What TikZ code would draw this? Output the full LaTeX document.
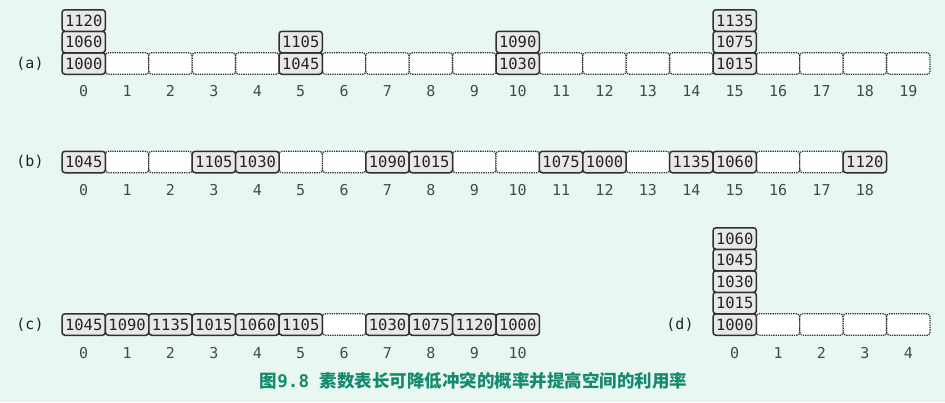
\documentclass[tikz,border=0pt]{standalone}
\usepackage{fontspec}
\setmonofont{DejaVu Sans Mono}
\newfontfamily\cjk{Noto Sans CJK SC}
\usetikzlibrary{positioning}
\definecolor{bg}{RGB}{232,248,241}
\definecolor{cellfill}{RGB}{231,232,231}
\definecolor{edge}{RGB}{48,48,48}
\definecolor{txt}{RGB}{35,35,35}
\definecolor{idxc}{RGB}{72,72,72}
\definecolor{capt}{RGB}{22,138,108}

\begin{document}
\begin{tikzpicture}[x=1pt, y=-1pt,
    cell/.style={minimum width=43.4pt, minimum height=21.5pt, inner sep=0pt,
      rounded corners=3pt, font=\ttfamily\fontsize{15.5}{15.5}\selectfont, text=txt},
    full/.style={cell, draw=edge, fill=cellfill, line width=1.5pt},
    free/.style={cell, draw=edge, fill=white, densely dotted, line width=1.3pt},
    idx/.style={font=\ttfamily\fontsize{15}{15}\selectfont, text=idxc},
    tag/.style={font=\ttfamily\fontsize{15}{15}\selectfont, text=txt}]
  \fill[bg] (0,0) rectangle (945,402);
  \useasboundingbox (0,0) rectangle (945,402);
  % (a)
  \node[tag] (la) at (30,63.5) {(a)};
  \foreach \i in {1,2,3,4,6,7,8,9,11,12,13,14,16,17,18,19}{
    \node[free] (a\i) at ({83.7+43.4*\i},63.5) {};
  }
  \foreach \i/\v in {0/1000, 5/1045, 10/1030, 15/1015}{
    \node[full] (a\i) at ({83.7+43.4*\i},63.5) {\v};
  }
  \foreach \i/\k/\v in {0/1/1060, 0/2/1120, 5/1/1105, 10/1/1090, 15/1/1075, 15/2/1135}{
    \node[full] (a\i-\k) at ({83.7+43.4*\i},{63.5-21.5*\k}) {\v};
  }
  \foreach \i in {0,...,19}{
    \node[idx] (ia\i) at ({83.7+43.4*\i},91) {\i};
  }
  % (b)
  \node[tag] (lb) at (30,162) {(b)};
  \foreach \i in {1,2,5,6,9,10,13,16,17}{
    \node[free] (b\i) at ({83.7+43.4*\i},162) {};
  }
  \foreach \i/\v in {0/1045, 3/1105, 4/1030, 7/1090, 8/1015,
                     11/1075, 12/1000, 14/1135, 15/1060, 18/1120}{
    \node[full] (b\i) at ({83.7+43.4*\i},162) {\v};
  }
  \foreach \i in {0,...,18}{
    \node[idx] (ib\i) at ({83.7+43.4*\i},190) {\i};
  }
  % (c)
  \node[tag] (lc) at (30,324.5) {(c)};
  \node[free] (c6) at ({83.7+43.4*6},324.5) {};
  \foreach \i/\v in {0/1045, 1/1090, 2/1135, 3/1015, 4/1060, 5/1105,
                     7/1030, 8/1075, 9/1120, 10/1000}{
    \node[full] (c\i) at ({83.7+43.4*\i},324.5) {\v};
  }
  \foreach \i in {0,...,10}{
    \node[idx] (ic\i) at ({83.7+43.4*\i},353) {\i};
  }
  % (d)
  \node[tag] (ld) at (680,324.5) {(d)};
  \foreach \i in {1,...,4}{
    \node[free] (d\i) at ({734.7+43.4*\i},324.5) {};
  }
  \foreach \k/\v in {0/1000, 1/1015, 2/1030, 3/1045, 4/1060}{
    \node[full] (d0-\k) at (734.7,{324.5-21.5*\k}) {\v};
  }
  \foreach \i in {0,...,4}{
    \node[idx] (id\i) at ({734.7+43.4*\i},353) {\i};
  }
  \node[text=capt, font=\fontsize{17.5}{17.5}\selectfont\bfseries] (cap) at (473.5,381)
    {\cjk 图{\ttfamily 9.8 }素数表长可降低冲突的概率并提高空间的利用率};
\end{tikzpicture}
\end{document}
